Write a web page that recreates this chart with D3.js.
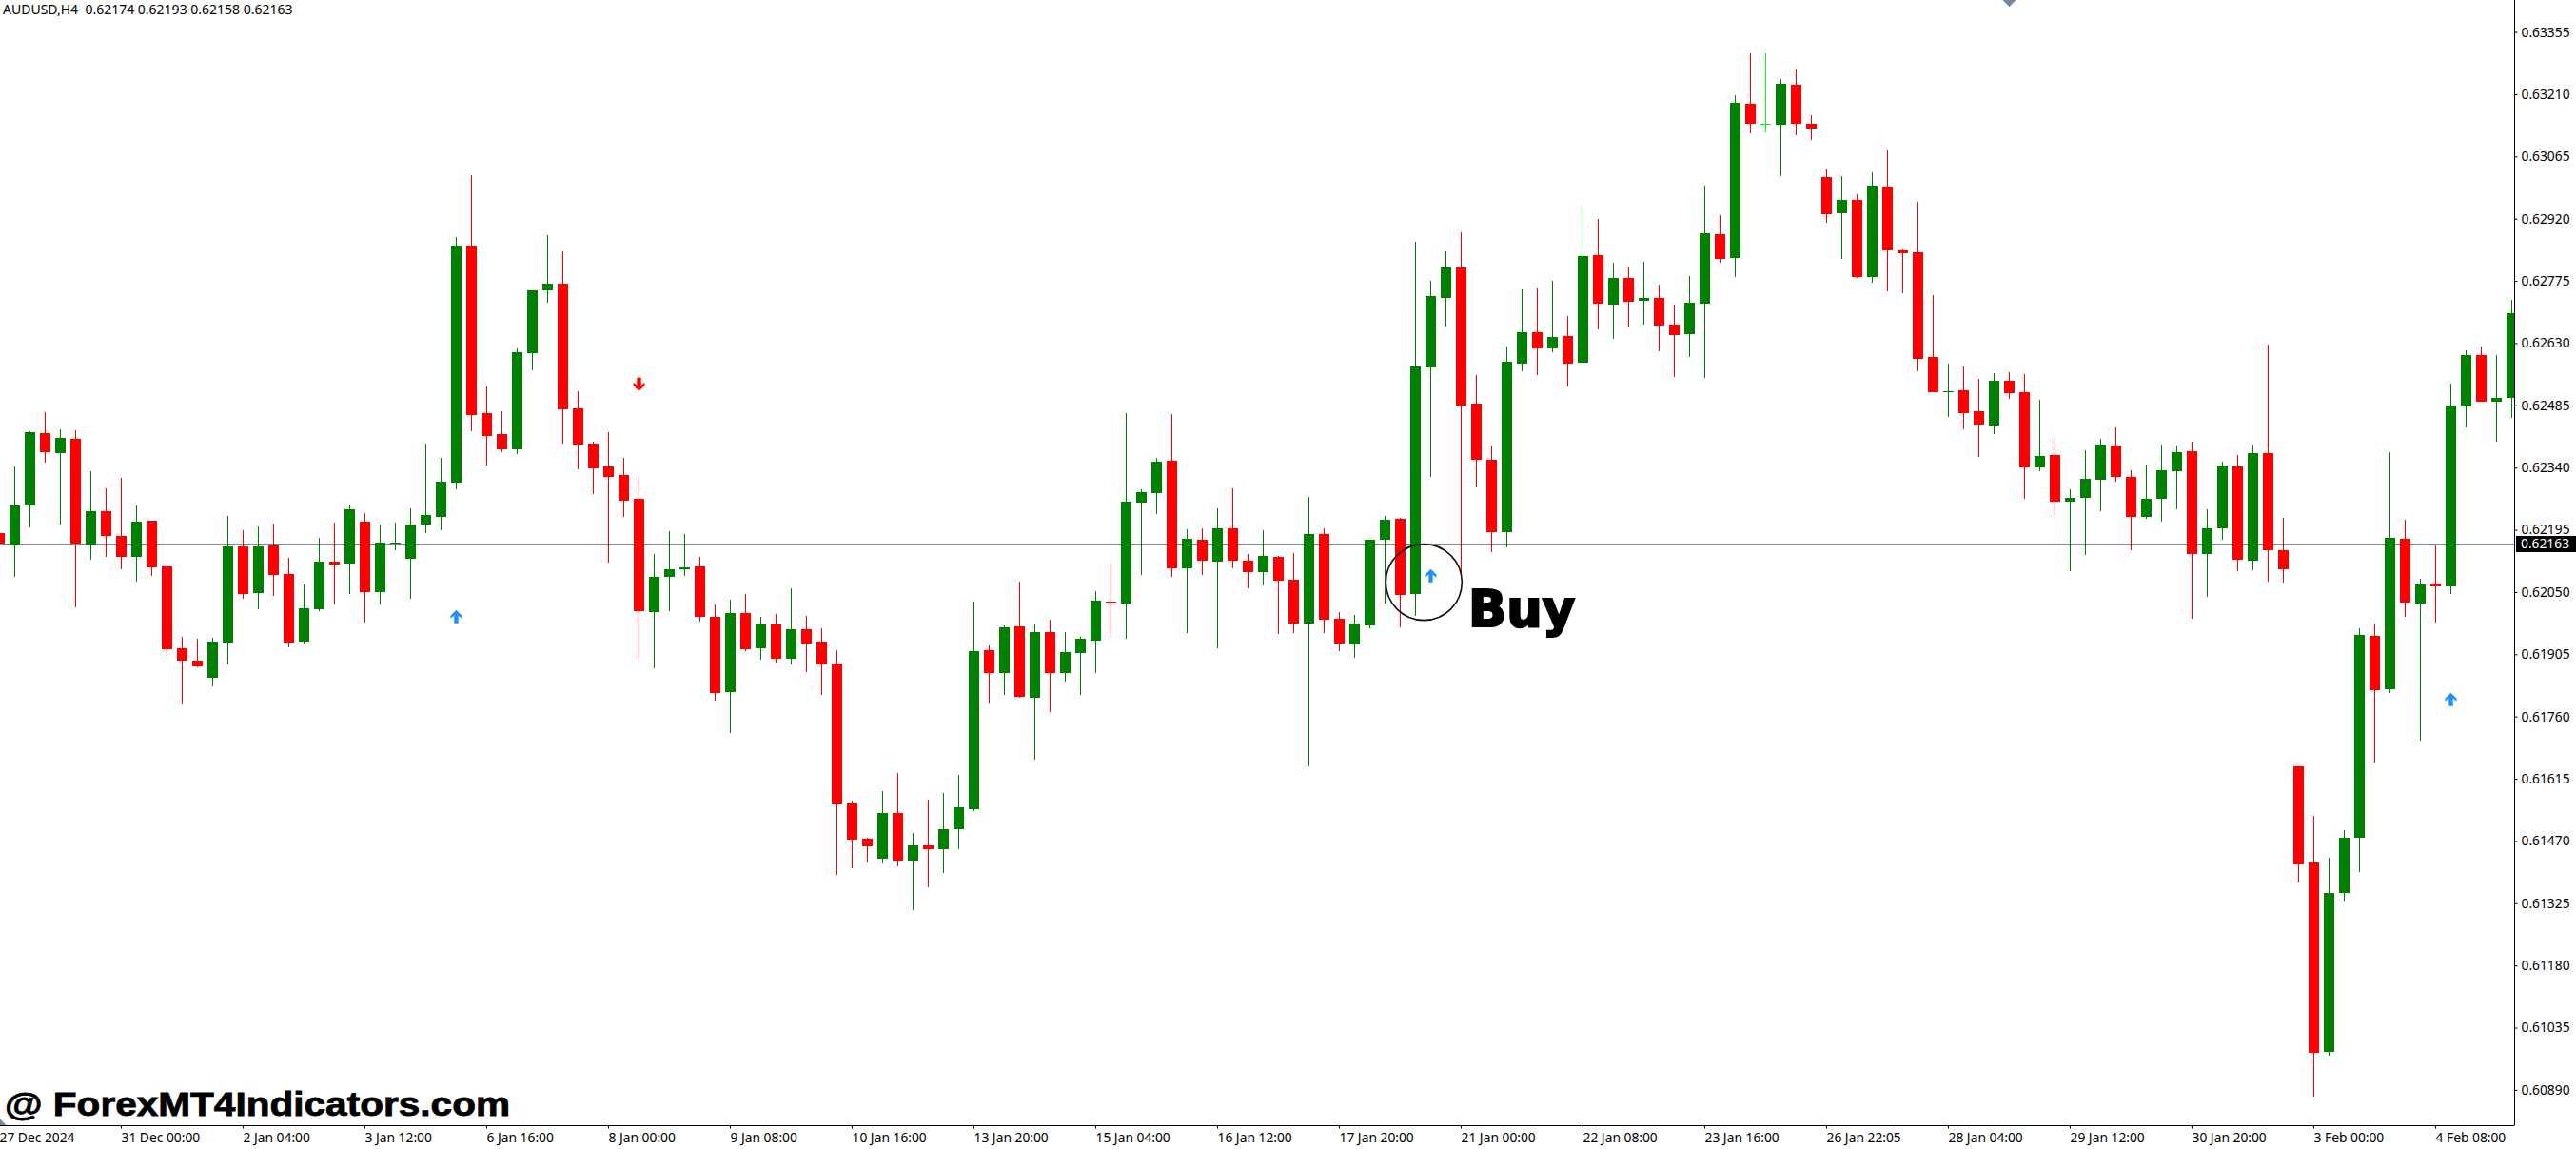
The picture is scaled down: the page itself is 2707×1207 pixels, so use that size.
<html>
<head>
  <title> AUDUSD H4 </title>
  <script src="https://d3js.org/d3.v7.min.js"></script>
  <style>
    body{
        margin: 0;
        background: white;
    }
    svg{
        display: block;
    }
    .axis text{
        font-family: "Noto Sans", sans-serif;
        font-size: 13.8px;
        fill: black;
    }
    .axis line{
        stroke: black;
    }
  </style>
</head>
<body>
    <svg id="chart" height="1207" width="2707"> </svg>
    <script>

        // prices are in points (price x 100000), one entry per H4 bar
        const opens = [62189,62160,62253,62421,62375,62408,62162,62240,62182,62133,62217,62111,61920,61891,61851,61933,62157,62049,62160,62093,
            61936,62011,62122,62118,62215,62051,62164,62129,62208,62226,62306,62858,62468,62419,62384,62608,62754,62770,62479,62397,
            62344,62324,62268,62004,62086,62104,62111,61993,61818,62002,61920,61976,61896,61964,61936,61885,61559,61477,61430,61536,
            61426,61461,61452,61499,61545,61916,61862,61971,61805,61958,61862,61909,61938,62029,62024,62259,62282,62357,62106,62173,
            62122,62200,62124,62098,62133,62080,61978,62186,61989,61929,61973,62173,62222,62047,62574,62736,62807,62490,62359,62191,
            62583,62656,62619,62648,62586,62836,62721,62783,62730,62736,62674,62652,62723,62885,62829,63189,63142,63140,63233,63142,
            63018,62934,62965,62785,62996,62847,62843,62599,62517,62521,62472,62439,62543,62517,62342,62370,62262,62271,62313,62393,
            62319,62226,62268,62333,62379,62140,62200,62344,62124,62375,62149,61645,61421,60979,61350,61478,61948,61825,62175,62024,
            62070,62064,62483,62603,62495,62503];
        const highs = [62189,62344,62426,62470,62430,62428,62333,62293,62317,62253,62217,62118,61947,61942,61945,62228,62195,62204,62211,62131,
            62069,62177,62213,62255,62235,62208,62213,62246,62397,62364,62879,63022,62530,62472,62619,62754,62883,62845,62519,62401,
            62424,62364,62322,62140,62193,62186,62133,62022,62033,62047,61993,62000,62060,61996,61967,61916,61565,61479,61587,61630,
            61490,61567,61583,61625,62029,61927,61973,62075,61976,61987,61958,61947,62053,62118,62468,62291,62364,62466,62197,62200,
            62246,62293,62140,62195,62135,62142,62273,62200,62004,61998,62173,62228,62224,62867,62776,62845,62889,62557,62393,62623,
            62756,62759,62776,62694,62951,62920,62818,62810,62821,62767,62721,62787,62998,62929,63209,63306,63306,63246,63269,63162,
            63036,63020,62978,63029,63080,62849,62960,62743,62583,62577,62548,62561,62563,62559,62499,62410,62291,62381,62408,62435,
            62335,62348,62395,62393,62401,62244,62355,62370,62395,62628,62224,61645,61529,61432,61496,61966,61977,62377,62220,62081,
            62159,62537,62614,62623,62603,62732];
        const lows = [62164,62086,62202,62353,62208,62016,62126,62133,62104,62075,62089,61902,61789,61876,61831,61882,62035,62011,62042,61922,
            61931,62007,62022,62047,61980,62022,62149,62035,62189,62195,62291,62426,62346,62377,62373,62568,62725,62397,62337,62279,
            62120,62226,61898,61874,62007,62089,61982,61798,61723,61913,61894,61887,61882,61865,61811,61392,61408,61421,61419,61412,
            61310,61363,61397,61452,61541,61792,61811,61805,61661,61772,61843,61811,61862,61953,61942,62091,62233,62086,61956,62091,
            61920,62106,62060,62067,61953,61956,61644,61956,61913,61898,61967,62024,61969,61996,62319,62670,62092,62295,62144,62155,
            62566,62557,62610,62530,62586,62663,62641,62668,62674,62612,62552,62599,62550,62818,62785,63120,63122,63020,63116,63104,
            62912,62827,62783,62772,62752,62747,62566,62517,62459,62430,62366,62419,62501,62268,62333,62231,62100,62137,62240,62308,
            62149,62222,62215,62244,61989,62040,62173,62100,62102,62075,62073,61374,60875,60970,61330,61398,61654,61816,61993,61704,
            61979,62047,62435,62495,62401,62457];
        const closes = [62164,62253,62424,62377,62410,62163,62240,62182,62133,62215,62109,61918,61891,61878,61936,62157,62047,62157,62091,61933,
            62013,62122,62115,62244,62051,62166,62166,62208,62231,62308,62858,62464,62415,62384,62610,62754,62770,62477,62395,62339,
            62319,62264,62007,62086,62104,62109,61993,61816,62002,61918,61976,61896,61964,61931,61882,61556,61474,61459,61536,61426,
            61461,61452,61499,61550,61913,61862,61969,61807,61958,61862,61911,61942,62031,62027,62262,62284,62355,62106,62175,62124,
            62200,62124,62098,62135,62078,61978,62186,61987,61931,61978,62173,62220,62044,62577,62741,62807,62486,62359,62191,62588,
            62656,62619,62645,62583,62834,62723,62783,62727,62736,62672,62650,62725,62887,62827,63191,63142,63142,63235,63142,63131,
            62931,62965,62785,62998,62847,62841,62594,62517,62519,62468,62441,62543,62515,62342,62368,62262,62271,62315,62395,62319,
            62226,62268,62335,62377,62140,62200,62346,62126,62375,62149,62104,61416,60977,61350,61478,61951,61823,62177,62027,62068,
            62064,62486,62603,62495,62503,62701];

        const yTicks = [0.63355,0.63210,0.63065,0.62920,0.62775,0.62630,0.62485,0.62340,0.62195,0.62050,0.61905,0.61760,0.61615,0.61470,0.61325,0.61180,0.61035,0.60890];
        const xLabels = ["27 Dec 2024","31 Dec 00:00","2 Jan 04:00","3 Jan 12:00","6 Jan 16:00","8 Jan 00:00","9 Jan 08:00","10 Jan 16:00","13 Jan 20:00","15 Jan 04:00","16 Jan 12:00","17 Jan 20:00","21 Jan 00:00","22 Jan 08:00","23 Jan 16:00","26 Jan 22:05","28 Jan 04:00","29 Jan 12:00","30 Jan 20:00","3 Feb 00:00","4 Feb 08:00"];
        const xLabelBars = [0,8,16,24,32,40,48,56,64,72,80,88,96,104,112,120,128,136,144,152,160];

        const buySignals = [{bar:30, price:61994},{bar:94, price:62089},{bar:161, price:61801}];
        const sellSignals = [{bar:42, price:62535}];
        const lastPrice = 0.62163;
        const header = "AUDUSD,H4  0.62174 0.62193 0.62158 0.62163";

        const createGraph = function() {
            let svg = d3.select("#chart");
            let plotRight = 2642;
            let plotBottom = 1182;

            const xScale = d3.scaleLinear().domain([0,165]).range([-0.5,2639.5]);
            const yScale = d3.scaleLinear().domain([0.60890,0.63355]).range([1145.4,34.1]);
            const yPts = v => Math.round(yScale(v/100000));

            svg.append("clipPath").attr("id","plot")
                .append("rect").attr("width",plotRight).attr("height",plotBottom);

            // current price line goes behind the candles
            svg.append("line")
                .attr("x1",0).attr("x2",plotRight)
                .attr("y1",Math.floor(yScale(lastPrice))+0.5).attr("y2",Math.floor(yScale(lastPrice))+0.5)
                .attr("stroke","#778899");

            let bars = d3.range(opens.length);
            const barColor = i => closes[i] > opens[i] ? "#008000" : (closes[i] < opens[i] ? "#ff0000" : "#00ff00");

            let candles = svg.append("g").attr("clip-path","url(#plot)").attr("shape-rendering","crispEdges");
            candles.selectAll("line").data(bars).join("line")
                .attr("x1",i => xScale(i)).attr("x2",i => xScale(i))
                .attr("y1",i => yPts(highs[i])).attr("y2",i => yPts(lows[i]))
                .attr("stroke",barColor);
            candles.selectAll("rect").data(bars).join("rect")
                .attr("x",i => xScale(i)-5.5)
                .attr("width",11)
                .attr("y",i => yPts(Math.max(opens[i],closes[i])))
                .attr("height",i => Math.max(1,yPts(Math.min(opens[i],closes[i]))-yPts(Math.max(opens[i],closes[i]))))
                .attr("fill",barColor);

            // indicator arrows
            const arrow = "M0,-7L6,-1L6,2L2.2,-1L2.2,7L-2.2,7L-2.2,-1L-6,2L-6,-1Z";
            svg.selectAll(".buy").data(buySignals).join("path").attr("class","buy")
                .attr("d",arrow).attr("fill","#1e90ff")
                .attr("transform",d => `translate(${xScale(d.bar)},${yScale(d.price/100000)})`);
            svg.selectAll(".sell").data(sellSignals).join("path").attr("class","sell")
                .attr("d",arrow).attr("fill","#ff0000")
                .attr("transform",d => `translate(${xScale(d.bar)},${yScale(d.price/100000)}) scale(1,-1)`);

            // chart shift markers
            const marker = "M-7,0L7,0L0,-7Z";
            svg.append("path").attr("d",marker).attr("fill","#778899")
                .attr("transform",`translate(${xScale(132)},0) scale(1,-1)`);
            svg.append("path").attr("d",marker).attr("fill","#778899")
                .attr("transform",`translate(${xScale(0)},${plotBottom})`);

            // axes
            let yAxis = d3.axisRight(yScale).tickValues(yTicks).tickSize(3).tickPadding(4).tickFormat(d3.format(".5f")).offset(0);
            svg.append("g").attr("class","axis").attr("transform",`translate(${plotRight+0.5},0)`).call(yAxis)
                .call(g => g.select(".domain").remove());
            svg.append("line").attr("x1",plotRight+0.5).attr("x2",plotRight+0.5).attr("y1",0).attr("y2",plotBottom+0.5).attr("stroke","black");

            let xAxis = d3.axisBottom(xScale).tickValues(xLabelBars).tickSize(3).tickPadding(5)
                .tickFormat((d,i) => xLabels[i]).offset(0);
            svg.append("g").attr("class","axis").attr("transform",`translate(0,${plotBottom+0.5})`).call(xAxis)
                .call(g => g.select(".domain").remove())
                .selectAll("text").attr("text-anchor","start");
            svg.append("line").attr("x1",0).attr("x2",plotRight).attr("y1",plotBottom+0.5).attr("y2",plotBottom+0.5).attr("stroke","black");

            // last price tag
            svg.append("rect").attr("x",plotRight+2).attr("y",yScale(lastPrice)-8.5).attr("width",63).attr("height",17).attr("fill","black");
            svg.append("text").attr("x",plotRight+7).attr("y",yScale(lastPrice)+5)
                .attr("fill","white").style("font-family",'"Noto Sans", sans-serif').style("font-size","13.8px")
                .text(d3.format(".5f")(lastPrice));

            svg.append("text").attr("x",3).attr("y",15)
                .style("font-family",'"Noto Sans", sans-serif').style("font-size","14px").style("white-space","pre")
                .text(header);

            // annotation drawn on the picture
            svg.append("circle").attr("cx",xScale(93.55)).attr("cy",yScale(0.62074)).attr("r",40)
                .attr("fill","none").attr("stroke","#111").attr("stroke-width",1.6);
            svg.append("text").attr("x",xScale(96.47)).attr("y",yScale(0.61971))
                .style("font-family",'"DejaVu Sans", sans-serif').style("font-weight","bold").style("font-size","54px")
                .attr("textLength",112).attr("lengthAdjust","spacingAndGlyphs")
                .attr("stroke","black").attr("stroke-width",2.2)
                .text("Buy");
            svg.append("text").attr("x",5).attr("y",1172)
                .style("font-family",'"Liberation Sans", sans-serif').style("font-weight","bold").style("font-size","35px")
                .attr("textLength",531).attr("lengthAdjust","spacingAndGlyphs")
                .attr("stroke","black").attr("stroke-width",0.8)
                .text("@ ForexMT4Indicators.com");
        }
        createGraph();

    </script>
</body>
</html>
